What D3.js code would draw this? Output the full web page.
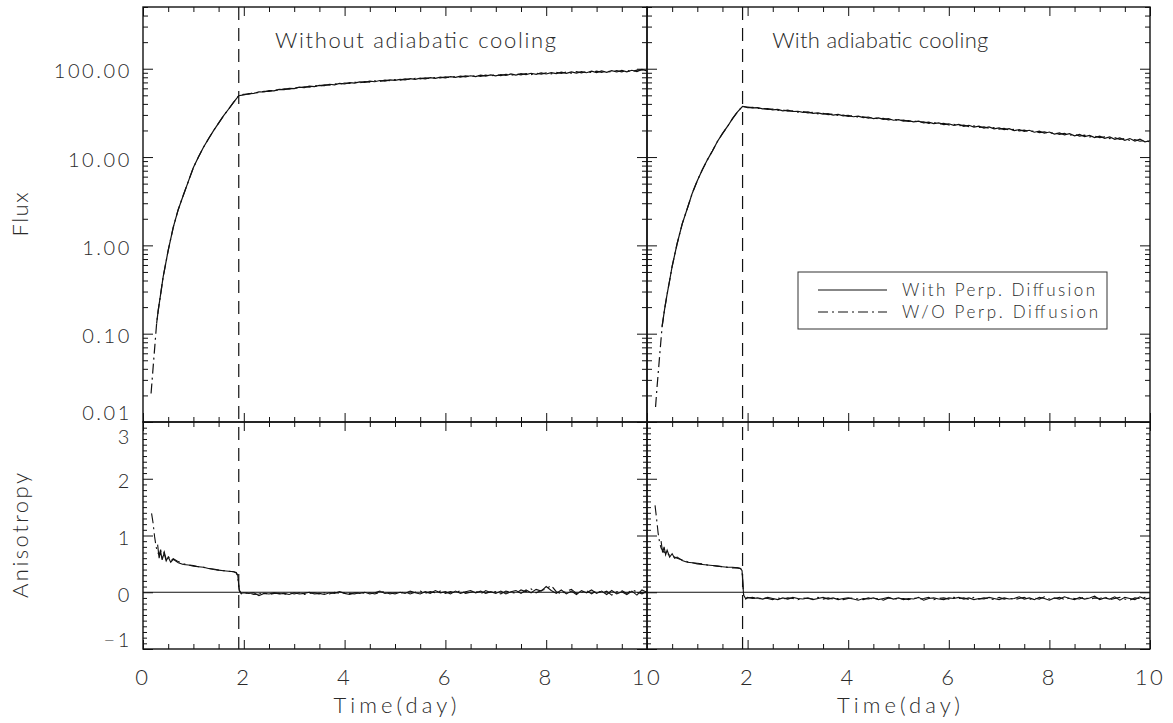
<!DOCTYPE html>
<html>
<head>
<meta charset="utf-8">
<script src="https://cdn.jsdelivr.net/npm/d3@7"></script>
<style>
  body { margin: 0; background: #fff; }
  text { font-family: Lato, "DejaVu Sans", sans-serif; font-weight: 300; fill: #2a2a2a; }
</style>
</head>
<body>
<div id="chart"></div>
<script>
// ---- data ----
const panelTitles = ["Without adiabatic cooling", "With adiabatic cooling"];
const legendLabels = ["With Perp. Diffusion", "W/O Perp. Diffusion"];
const xMajorTicks = [0, 2, 4, 6, 8, 10];
const xTickLabelsLeft = [0, 2, 4, 6, 8, 10];
const xTickLabelsRight = [2, 4, 6, 8, 10];
const fluxMajorTicks = [0.01, 0.1, 1, 10, 100];
const anisMajorTicks = [-1, 0, 1, 2, 3];
const shockTime = 1.9;

// common time grid after the shock passage (days)
const lateTimes = [
  2.0, 2.1, 2.2, 2.3, 2.4, 2.5, 2.6, 2.7, 2.8, 2.9,
  3.0, 3.1, 3.2, 3.3, 3.4, 3.5, 3.6, 3.7, 3.8, 3.9,
  4.0, 4.1, 4.2, 4.3, 4.4, 4.5, 4.6, 4.7, 4.8, 4.9,
  5.0, 5.1, 5.2, 5.3, 5.4, 5.5, 5.6, 5.7, 5.8, 5.9,
  6.0, 6.1, 6.2, 6.3, 6.4, 6.5, 6.6, 6.7, 6.8, 6.9,
  7.0, 7.1, 7.2, 7.3, 7.4, 7.5, 7.6, 7.7, 7.8, 7.9,
  8.0, 8.1, 8.2, 8.3, 8.4, 8.5, 8.6, 8.7, 8.8, 8.9,
  9.0, 9.1, 9.2, 9.3, 9.4, 9.5, 9.6, 9.7, 9.8, 9.9,
  10.0];

// flux, without adiabatic cooling
const fluxRiseTimesNoAd = [0.16, 0.2, 0.24, 0.27, 0.3, 0.35, 0.4, 0.45, 0.5, 0.6, 0.7, 0.8, 0.9, 1.0, 1.1, 1.2, 1.3, 1.4, 1.5, 1.6, 1.7, 1.8, 1.9];
const fluxRisePerpNoAd = [null, null, null, 0.13, 0.18, 0.28, 0.44, 0.62, 0.88, 1.6, 2.55, 3.7, 5.3, 7.6, 10.0, 12.9, 16.1, 19.9, 24.2, 29.4, 35.0, 41.8, 49.5];
const fluxRiseNoPerpNoAd = [0.021, 0.041, 0.079, 0.13, 0.18, 0.28, 0.44, 0.62, 0.88, 1.6, 2.55, 3.7, 5.3, 7.6, 10.0, 12.9, 16.1, 19.9, 24.2, 29.4, 35.0, 41.8, 49.5];
const fluxLatePerpNoAd = [
  50.6, 52.3, 52.7, 54.6, 54.5, 56.4, 56.2, 58.3, 58.0, 59.9,
  59.6, 61.8, 61.2, 63.4, 62.7, 64.9, 64.3, 66.7, 65.8, 68.1,
  67.2, 69.5, 68.6, 70.9, 70.1, 72.3, 71.2, 73.6, 72.4, 74.9,
  73.7, 75.9, 74.8, 77.2, 75.9, 78.4, 76.9, 79.2, 77.8, 80.3,
  78.9, 81.2, 79.8, 82.4, 80.7, 83.3, 81.6, 84.4, 82.5, 85.1,
  83.1, 86.0, 83.9, 87.2, 84.8, 87.9, 85.6, 88.8, 86.4, 89.7,
  87.2, 90.5, 87.9, 91.4, 88.6, 92.2, 89.4, 92.8, 90.1, 93.7,
  90.6, 94.3, 91.2, 94.9, 91.9, 95.6, 92.4, 96.1, 93.0, 98.4,
  94.6];
const fluxLateNoPerpNoAd = [
  51.4, 51.6, 53.5, 53.6, 55.6, 55.4, 57.3, 57.1, 59.2, 58.8,
  60.9, 60.5, 62.5, 62.0, 64.1, 63.7, 65.8, 65.3, 67.4, 66.6,
  68.9, 68.1, 70.3, 69.4, 71.6, 70.7, 72.9, 71.9, 74.1, 73.2,
  75.3, 74.4, 76.6, 75.4, 77.8, 76.6, 78.9, 77.4, 79.7, 78.5,
  80.9, 79.4, 81.8, 80.2, 82.9, 81.2, 83.9, 82.0, 84.6, 82.9,
  85.4, 83.6, 86.5, 84.3, 87.4, 85.2, 88.3, 86.0, 89.2, 86.8,
  89.9, 87.6, 90.9, 88.3, 91.6, 89.0, 92.5, 89.8, 93.2, 90.4,
  94.0, 90.9, 94.6, 91.5, 95.3, 92.2, 95.9, 92.7, 96.6, 97.3,
  95.3];

// flux, with adiabatic cooling
const fluxRiseTimesAd = [0.17, 0.2, 0.25, 0.3, 0.35, 0.4, 0.45, 0.5, 0.6, 0.7, 0.8, 0.9, 1.0, 1.1, 1.2, 1.3, 1.4, 1.5, 1.6, 1.7, 1.8, 1.9];
const fluxRisePerpAd = [null, null, null, 0.12, 0.19, 0.28, 0.40, 0.58, 1.05, 1.75, 2.6, 3.9, 5.4, 7.2, 9.3, 11.7, 15.0, 18.4, 22.2, 27.2, 32.5, 37.5];
const fluxRiseNoPerpAd = [0.0148, 0.025, 0.055, 0.12, 0.19, 0.28, 0.40, 0.58, 1.05, 1.75, 2.6, 3.9, 5.4, 7.2, 9.3, 11.7, 15.0, 18.4, 22.2, 27.2, 32.5, 37.5];
const fluxLatePerpAd = [
  36.9, 36.0, 36.3, 35.1, 35.4, 34.3, 34.6, 33.4, 33.9, 32.8,
  33.0, 32.0, 32.4, 31.3, 31.7, 30.6, 31.0, 29.9, 30.4, 29.3,
  29.6, 28.6, 29.0, 27.9, 28.4, 27.3, 27.8, 26.7, 27.2, 26.1,
  26.5, 25.5, 25.9, 25.0, 25.5, 24.4, 24.9, 23.9, 24.4, 23.3,
  23.8, 22.8, 23.4, 22.3, 22.9, 21.8, 22.4, 21.3, 21.9, 20.9,
  21.4, 20.4, 21.0, 19.9, 20.5, 19.5, 20.1, 19.1, 19.6, 18.6,
  19.2, 18.2, 18.8, 17.8, 18.4, 17.4, 18.0, 17.0, 17.6, 16.6,
  17.2, 16.3, 16.9, 15.9, 16.5, 15.5, 16.2, 15.2, 15.9, 14.9,
  15.3];
const fluxLateNoPerpAd = [
  36.2, 36.5, 35.5, 35.7, 34.6, 35.0, 33.8, 34.2, 33.0, 33.4,
  32.3, 32.7, 31.6, 32.0, 30.9, 31.3, 30.2, 30.6, 29.6, 29.9,
  28.9, 29.3, 28.3, 28.6, 27.6, 28.0, 27.0, 27.4, 26.4, 26.8,
  25.9, 26.2, 25.3, 25.7, 24.7, 25.1, 24.1, 24.6, 23.6, 24.0,
  23.1, 23.5, 22.6, 23.0, 22.1, 22.5, 21.6, 22.0, 21.1, 21.5,
  20.7, 21.1, 20.2, 20.6, 19.8, 20.2, 19.4, 19.8, 18.9, 19.3,
  18.5, 18.9, 18.1, 18.5, 17.7, 18.1, 17.3, 17.7, 16.9, 17.3,
  16.6, 16.9, 16.2, 16.6, 15.8, 16.2, 15.4, 15.8, 15.1, 15.5,
  14.8];

// anisotropy, without adiabatic cooling
const anisRiseTimesNoAd = [0.17, 0.2, 0.23, 0.26, 0.29, 0.32, 0.35, 0.38, 0.42, 0.46, 0.5, 0.55, 0.6, 0.7, 0.8, 0.9, 1.0, 1.1, 1.2, 1.3, 1.4, 1.5, 1.6, 1.7, 1.8, 1.85, 1.88, 1.91, 1.95];
const anisRisePerpNoAd = [null, null, null, null, 0.84, 0.60, 0.72, 0.57, 0.69, 0.55, 0.62, 0.53, 0.58, 0.52, 0.49, 0.48, 0.46, 0.45, 0.44, 0.42, 0.40, 0.39, 0.38, 0.37, 0.36, 0.35, 0.30, 0.04, -0.02];
const anisRiseNoPerpNoAd = [1.39, 1.22, 0.98, 0.80, 0.70, 0.66, 0.75, 0.61, 0.71, 0.58, 0.64, 0.55, 0.59, 0.54, 0.50, 0.48, 0.47, 0.45, 0.44, 0.42, 0.41, 0.39, 0.38, 0.37, 0.36, 0.34, 0.28, 0.03, -0.03];
const anisLatePerpNoAd = [
  -0.01, -0.02, -0.01, -0.06, -0.02, -0.03, -0.01, -0.03, -0.02, -0.04,
  -0.01, -0.03, -0.02, 0.00, -0.03, -0.02, -0.04, -0.01, -0.02, 0.01,
  -0.02, -0.04, -0.01, -0.02, 0.00, -0.03, -0.01, 0.02, -0.02, -0.01,
  -0.03, 0.00, -0.02, 0.02, -0.01, -0.03, 0.01, -0.02, 0.03, -0.01,
  0.01, -0.03, 0.02, -0.02, 0.01, 0.03, -0.01, 0.02, -0.02, 0.01,
  -0.02, 0.02, -0.03, 0.01, 0.03, -0.02, 0.04, -0.01, 0.05, 0.02,
  0.10, 0.03, -0.02, 0.04, -0.03, 0.02, -0.04, 0.03, -0.01, 0.04,
  -0.02, 0.02, -0.04, 0.03, -0.03, 0.01, -0.04, 0.02, -0.05, 0.04,
  0.00];
const anisLateNoPerpNoAd = [
  -0.02, -0.01, -0.04, -0.03, -0.01, -0.04, -0.02, -0.02, -0.04, -0.01,
  -0.03, -0.01, -0.04, -0.02, -0.01, -0.03, -0.01, -0.03, 0.00, -0.02,
  -0.01, -0.02, -0.03, 0.00, -0.02, -0.01, -0.03, 0.00, 0.01, -0.03,
  -0.01, -0.02, 0.01, -0.03, 0.00, 0.02, -0.02, 0.01, -0.01, 0.02,
  -0.02, 0.01, -0.01, 0.03, -0.02, 0.00, 0.02, -0.03, 0.03, -0.01,
  0.01, -0.03, 0.02, 0.00, -0.02, 0.04, 0.01, 0.06, -0.01, 0.03,
  0.06, 0.12, 0.01, -0.03, 0.02, 0.05, -0.02, 0.00, 0.03, -0.03,
  0.03, -0.01, 0.02, -0.05, 0.01, 0.03, -0.02, 0.04, 0.01, -0.03,
  0.02];

// anisotropy, with adiabatic cooling
const anisRiseTimesAd = [0.16, 0.19, 0.22, 0.25, 0.28, 0.31, 0.34, 0.37, 0.4, 0.45, 0.5, 0.55, 0.6, 0.7, 0.8, 0.9, 1.0, 1.1, 1.2, 1.3, 1.4, 1.5, 1.6, 1.7, 1.8, 1.86, 1.89, 1.92, 1.96];
const anisRisePerpAd = [null, null, null, null, 0.90, 0.70, 0.80, 0.66, 0.74, 0.62, 0.68, 0.60, 0.62, 0.56, 0.53, 0.52, 0.50, 0.49, 0.48, 0.47, 0.46, 0.45, 0.44, 0.44, 0.43, 0.42, 0.38, -0.05, -0.11];
const anisRiseNoPerpAd = [1.53, 1.30, 1.05, 0.88, 0.78, 0.74, 0.70, 0.72, 0.68, 0.65, 0.63, 0.62, 0.60, 0.57, 0.54, 0.52, 0.51, 0.50, 0.48, 0.47, 0.46, 0.45, 0.44, 0.43, 0.43, 0.42, 0.37, -0.04, -0.12];
const anisLatePerpAd = [
  -0.09, -0.11, -0.10, -0.12, -0.09, -0.11, -0.13, -0.10, -0.12, -0.09,
  -0.11, -0.12, -0.10, -0.13, -0.11, -0.09, -0.12, -0.10, -0.13, -0.11,
  -0.10, -0.12, -0.14, -0.11, -0.12, -0.10, -0.13, -0.11, -0.09, -0.12,
  -0.10, -0.13, -0.11, -0.12, -0.09, -0.14, -0.11, -0.10, -0.12, -0.13,
  -0.10, -0.11, -0.09, -0.12, -0.10, -0.13, -0.11, -0.12, -0.09, -0.11,
  -0.13, -0.10, -0.12, -0.11, -0.08, -0.12, -0.10, -0.13, -0.09, -0.11,
  -0.14, -0.10, -0.12, -0.08, -0.11, -0.13, -0.09, -0.12, -0.10, -0.07,
  -0.13, -0.10, -0.12, -0.08, -0.14, -0.09, -0.11, -0.13, -0.08, -0.12,
  -0.10];
const anisLateNoPerpAd = [
  -0.10, -0.09, -0.12, -0.10, -0.11, -0.13, -0.10, -0.12, -0.10, -0.11,
  -0.13, -0.10, -0.11, -0.12, -0.09, -0.12, -0.10, -0.12, -0.11, -0.13,
  -0.11, -0.10, -0.12, -0.13, -0.10, -0.12, -0.11, -0.14, -0.10, -0.11,
  -0.12, -0.11, -0.13, -0.10, -0.12, -0.11, -0.09, -0.13, -0.11, -0.10,
  -0.12, -0.09, -0.11, -0.10, -0.13, -0.09, -0.12, -0.10, -0.11, -0.13,
  -0.09, -0.12, -0.10, -0.13, -0.11, -0.09, -0.13, -0.10, -0.12, -0.08,
  -0.12, -0.11, -0.09, -0.13, -0.10, -0.11, -0.12, -0.08, -0.13, -0.10,
  -0.11, -0.08, -0.13, -0.11, -0.09, -0.12, -0.14, -0.10, -0.11, -0.09,
  -0.12];

// ---- layout ----
const width = 1173, height = 723;
const fluxTop = 7, split = 422, anisBottom = 649;
const ink = "#111";

const svg = d3.select("#chart").append("svg")
    .attr("width", width)
    .attr("height", height);

const yFlux = d3.scaleLog().domain([0.01, 500]).range([split, fluxTop]);
const yAnis = d3.scaleLinear().domain([-1, 3]).range([anisBottom, split]);

function series(riseT, riseV, late) {
  return riseT.map((t, i) => ({ t: t, v: riseV[i] }))
    .concat(lateTimes.map((t, i) => ({ t: t, v: late[i] })));
}

const panels = [
  { edges: [143, 647], title: panelTitles[0], titleAt: 2.62, xLabels: xTickLabelsLeft, yLabels: true,
    flux: [series(fluxRiseTimesNoAd, fluxRisePerpNoAd, fluxLatePerpNoAd), series(fluxRiseTimesNoAd, fluxRiseNoPerpNoAd, fluxLateNoPerpNoAd)],
    anis: [series(anisRiseTimesNoAd, anisRisePerpNoAd, anisLatePerpNoAd), series(anisRiseTimesNoAd, anisRiseNoPerpNoAd, anisLateNoPerpNoAd)] },
  { edges: [647, 1150], title: panelTitles[1], titleAt: 2.49, xLabels: xTickLabelsRight, yLabels: false, legend: true,
    flux: [series(fluxRiseTimesAd, fluxRisePerpAd, fluxLatePerpAd), series(fluxRiseTimesAd, fluxRiseNoPerpAd, fluxLateNoPerpAd)],
    anis: [series(anisRiseTimesAd, anisRisePerpAd, anisLatePerpAd), series(anisRiseTimesAd, anisRiseNoPerpAd, anisLateNoPerpAd)] }
];

const dashStyles = [null, "10,4,2,4"];

// minor ticks
const xMinor = d3.range(0.5, 10, 0.5).filter(v => v % 2 !== 0);
const fluxMinor = yFlux.ticks().filter(v => !fluxMajorTicks.some(m => Math.abs(m - v) < 1e-9));
const anisMinor = d3.range(-10, 31).map(v => v / 10).filter(v => v % 1 !== 0);

function tickAxis(axisFn, scale, values, len, transform) {
  svg.append("g")
    .attr("transform", transform)
    .attr("color", ink)
    .call(axisFn(scale).tickValues(values).tickSize(-len).tickSizeOuter(0).tickFormat(""))
    .call(a => a.select(".domain").remove())
    .call(a => a.selectAll("line").attr("stroke-width", 1));
}

panels.forEach((p, k) => {
  const [x0, x1] = p.edges;
  const x = d3.scaleLinear().domain([0, 10]).range(p.edges);

  svg.append("clipPath").attr("id", "clip" + k)
    .append("rect")
    .attr("x", x0).attr("y", fluxTop)
    .attr("width", x1 - x0).attr("height", anisBottom - fluxTop);

  const plot = svg.append("g").attr("clip-path", `url(#clip${k})`);

  // zero line of the anisotropy panel
  plot.append("line")
    .attr("x1", x0).attr("x2", x1)
    .attr("y1", yAnis(0)).attr("y2", yAnis(0))
    .attr("stroke", ink).attr("stroke-width", 1);

  // shock passage marker
  plot.append("line")
    .attr("x1", x(shockTime)).attr("x2", x(shockTime))
    .attr("y1", fluxTop).attr("y2", anisBottom)
    .attr("stroke", ink).attr("stroke-width", 1.2)
    .attr("stroke-dasharray", "13,8");

  const fluxLine = d3.line().defined(d => d.v != null).x(d => x(d.t)).y(d => yFlux(d.v));
  const anisLine = d3.line().defined(d => d.v != null).x(d => x(d.t)).y(d => yAnis(d.v));

  [1, 0].forEach(s => {
    plot.append("path")
      .attr("d", fluxLine(p.flux[s]))
      .attr("fill", "none").attr("stroke", ink).attr("stroke-width", 1.2)
      .attr("stroke-dasharray", dashStyles[s]);
    plot.append("path")
      .attr("d", anisLine(p.anis[s]))
      .attr("fill", "none").attr("stroke", ink).attr("stroke-width", 1.1)
      .attr("stroke-dasharray", dashStyles[s]);
  });

  // ticks on all four sides of both panels, pointing inward
  [[fluxTop, d3.axisTop], [split, d3.axisBottom], [split, d3.axisTop], [anisBottom, d3.axisBottom]].forEach(([yy, fn]) => {
    tickAxis(fn, x, xMajorTicks, 9, `translate(0,${yy})`);
    tickAxis(fn, x, xMinor, 5, `translate(0,${yy})`);
  });
  [[x0, d3.axisLeft], [x1, d3.axisRight]].forEach(([xx, fn]) => {
    tickAxis(fn, yFlux, fluxMajorTicks, 10, `translate(${xx},0)`);
    tickAxis(fn, yFlux, fluxMinor, 5, `translate(${xx},0)`);
    tickAxis(fn, yAnis, anisMajorTicks, 10, `translate(${xx},0)`);
    tickAxis(fn, yAnis, anisMinor, 4, `translate(${xx},0)`);
  });

  // frames
  [[fluxTop, split], [split, anisBottom]].forEach(([a, b]) => {
    svg.append("rect")
      .attr("x", x0).attr("y", a)
      .attr("width", x1 - x0).attr("height", b - a)
      .attr("fill", "none").attr("stroke", ink).attr("stroke-width", 1.4);
  });

  // x tick labels and title
  svg.append("g").selectAll("text")
    .data(p.xLabels)
    .join("text")
    .attr("x", d => x(d))
    .attr("y", 685)
    .attr("text-anchor", "middle")
    .attr("font-size", 22)
    .attr("letter-spacing", 2.5)
    .text(d => d);

  svg.append("text")
    .attr("x", (x0 + x1) / 2)
    .attr("y", 713)
    .attr("text-anchor", "middle")
    .attr("font-size", 22)
    .attr("textLength", 123)
    .attr("lengthAdjust", "spacing")
    .text("Time(day)");

  svg.append("text")
    .attr("x", x(p.titleAt))
    .attr("y", 48)
    .attr("font-size", 22)
    .attr("textLength", k === 0 ? 281 : 216)
    .attr("lengthAdjust", "spacing")
    .text(p.title);

  if (p.yLabels) {
    // end labels are pulled inside their panel, as in the original
    const labelY = (y, top, bottom) => Math.max(top + 15, Math.min(bottom - 9, y + 2.5)) + 7;
    svg.append("g").selectAll("text")
      .data(fluxMajorTicks)
      .join("text")
      .attr("x", x0 - 11)
      .attr("y", d => labelY(yFlux(d), fluxTop - 20, split))
      .attr("text-anchor", "end")
      .attr("font-size", 20)
      .attr("letter-spacing", 2.6)
      .text(d => d3.format(".2f")(d));

    svg.append("g").selectAll("text")
      .data(anisMajorTicks)
      .join("text")
      .attr("x", x0 - 11)
      .attr("y", d => labelY(yAnis(d), split, anisBottom))
      .attr("text-anchor", "end")
      .attr("font-size", 20)
      .attr("letter-spacing", 2.6)
      .text(d => d < 0 ? "\u2212" + Math.abs(d) : d);
  }

  if (p.legend) {
    const lx = x1 - 352, ly = 272;
    svg.append("rect")
      .attr("x", lx).attr("y", ly)
      .attr("width", 309).attr("height", 57)
      .attr("fill", "none").attr("stroke", "#333").attr("stroke-width", 1);
    legendLabels.forEach((label, i) => {
      const yy = ly + 18 + i * 22;
      svg.append("line")
        .attr("x1", lx + 20).attr("x2", lx + 89)
        .attr("y1", yy).attr("y2", yy)
        .attr("stroke", ink).attr("stroke-width", 1.1)
        .attr("stroke-dasharray", dashStyles[i]);
      svg.append("text")
        .attr("x", lx + 104)
        .attr("y", yy + 6)
        .attr("font-size", 17)
        .attr("textLength", i === 0 ? 193 : 196)
        .attr("lengthAdjust", "spacing")
        .text(label);
    });
  }
});

// y axis titles
[["Flux", (fluxTop + split) / 2, 44], ["Anisotropy", (split + anisBottom) / 2, 125]].forEach(([label, cy, len]) => {
  svg.append("text")
    .attr("transform", `translate(28,${cy}) rotate(-90)`)
    .attr("text-anchor", "middle")
    .attr("font-size", 22)
    .attr("textLength", len)
    .attr("lengthAdjust", "spacing")
    .text(label);
});
</script>
</body>
</html>
